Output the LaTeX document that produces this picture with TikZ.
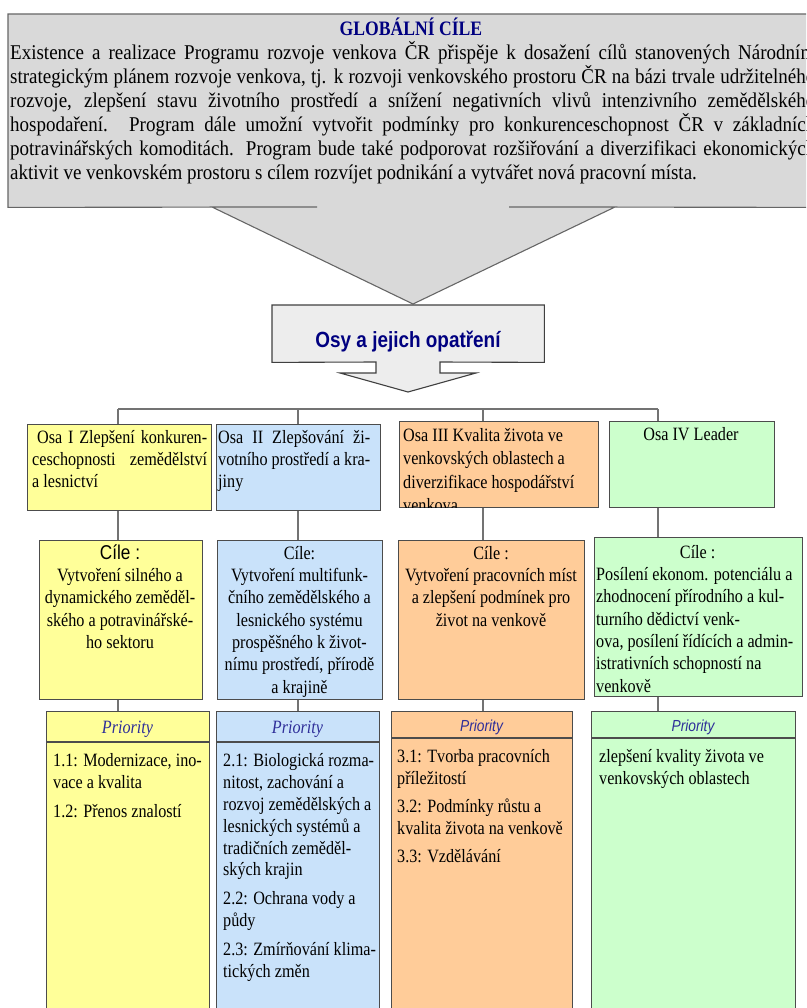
\documentclass[tikz,border=0pt]{standalone}
\usepackage{fontspec}
\setmainfont{Liberation Serif}[FakeStretch=0.86]
\setsansfont{Liberation Sans}[FakeStretch=0.86]
\newfontfamily\globserif{Liberation Serif}[FakeStretch=0.905]
\usetikzlibrary{positioning}

\definecolor{globgray}{HTML}{D9D9D9}
\definecolor{osygray}{HTML}{EDEDED}
\definecolor{osayellow}{HTML}{FFFF99}
\definecolor{osablue}{HTML}{C9E2FA}
\definecolor{osaorange}{HTML}{FFCC99}
\definecolor{osagreen}{HTML}{CCFFCC}
\definecolor{titleblue}{HTML}{000080}
\definecolor{prioblue}{HTML}{2E2E99}

\newcommand\globfont{\globserif\fontsize{21}{24}\selectfont}
\newcommand\titlefont{\bfseries\fontsize{20.5}{24}\selectfont}
\newcommand\boxfont{\fontsize{18.8}{22.3}\selectfont}
\newcommand\osyfont{\sffamily\bfseries\fontsize{22}{26}\selectfont}
\newcommand\cilesans{\sffamily\fontsize{20}{22.3}\selectfont}
\newcommand\priofont{\itshape\fontsize{18.8}{22}\selectfont}
\newcommand\priosans{\sffamily\itshape\fontsize{16}{20}\selectfont}
\newcommand\listfont{\fontsize{18.8}{21.8}\selectfont}
\newcommand\tstrut{\rule{0pt}{20pt}}
\newcommand\globline[1]{\makebox[805pt][s]{#1}}

\begin{document}
\begin{tikzpicture}[x=1pt, y=-1pt,
  frame/.style={draw=black!70, line width=1.1pt, inner sep=0pt, anchor=north west},
  conn/.style={draw=black!55, line width=1.3pt},
  txt/.style={inner sep=0pt, anchor=north west, align=left, font=\boxfont},
  prioline/.style={draw=black!70, line width=1.1pt}]
\useasboundingbox (0,0) rectangle (806,1008);
\clip (0,0) rectangle (806,1008);

% global goals with the big arrow
\node[anchor=north west, inner sep=0, minimum width=830, minimum height=193] (glob) at (8,14) {};
\filldraw[fill=globgray, draw=black!60, line width=1.1pt] (317,207) -- (glob.south west) -- (glob.north west) -- (glob.north east) -- (glob.south east) -- (509,207) -- (615,207) -- (413,304) -- (212,207) -- cycle;
\node[font=\titlefont, text=titleblue, anchor=base] (globtitle) at (411,36) {GLOBÁLNÍ CÍLE};
\node[txt, font=\globfont] (globtext) at (10,39) {\tstrut\globline{Existence a realizace Programu rozvoje venkova ČR přispěje k dosažení cílů stanovených Národním}\\
\globline{strategickým plánem rozvoje venkova, tj. k rozvoji venkovského prostoru ČR na bázi trvale udržitelného}\\
\globline{rozvoje, zlepšení stavu životního prostředí a snížení negativních vlivů intenzivního zemědělského}\\
\globline{hospodaření. Program dále umožní vytvořit podmínky pro konkurenceschopnost ČR v základních}\\
\globline{potravinářských komoditách. Program bude také podporovat rozšiřování a diverzifikaci ekonomických}\\
aktivit ve venkovském prostoru s cílem rozvíjet podnikání a vytvářet nová pracovní místa.};

% axes box with the small arrow
\node[anchor=north west, inner sep=0, minimum width=272, minimum height=57] (osy) at (272,305) {};
\filldraw[fill=osygray, draw=black!75, line width=1.1pt] (376,362) -- (osy.south west) -- (osy.north west) -- (osy.north east) -- (osy.south east) -- (440,362) -- (440,373) -- (476,373) -- (408,392) -- (340,373) -- (376,373) -- cycle;
\node[font=\osyfont, text=titleblue, anchor=base] (osytext) at (408,347) {Osy a jejich opatření};

% bus
\coordinate (bus1) at (118,409);
\coordinate (bus2) at (298,409);
\coordinate (bus3) at (483,409);
\coordinate (bus4) at (658,409);

% axes
\node[frame, fill=osayellow, minimum width=184, minimum height=86] (osa1) at (27,424) {};
\node[frame, fill=osablue, minimum width=164, minimum height=86] (osa2) at (216,424) {};
\node[frame, fill=osaorange, minimum width=199, minimum height=86] (osa3) at (399,421) {};
\node[frame, fill=osagreen, minimum width=165, minimum height=86] (osa4) at (609,421) {};

% goals
\node[frame, fill=osayellow, minimum width=163, minimum height=159] (cile1) at (39,540) {};
\node[frame, fill=osablue, minimum width=165, minimum height=159] (cile2) at (217,540) {};
\node[frame, fill=osaorange, minimum width=186, minimum height=159] (cile3) at (398,540) {};
\node[frame, fill=osagreen, minimum width=208, minimum height=159] (cile4) at (594,537) {};

% priorities
\node[frame, fill=osayellow, minimum width=163, minimum height=305] (prio1) at (46,711) {};
\node[frame, fill=osablue, minimum width=163, minimum height=305] (prio2) at (216,711) {};
\node[frame, fill=osaorange, minimum width=181, minimum height=305] (prio3) at (391,711) {};
\node[frame, fill=osagreen, minimum width=204, minimum height=305] (prio4) at (591,711) {};
\draw[prioline] ([yshift=-31]prio1.north west) -- ([yshift=-31]prio1.north east);
\draw[prioline] ([yshift=-31]prio2.north west) -- ([yshift=-31]prio2.north east);
\draw[prioline] ([yshift=-27]prio3.north west) -- ([yshift=-27]prio3.north east);
\draw[prioline] ([yshift=-27]prio4.north west) -- ([yshift=-27]prio4.north east);

% connectors
\draw[conn] (bus1) -- (bus4);
\draw[conn] (bus1) -- (bus1 |- osa1.north);
\draw[conn] (bus2) -- (bus2 |- osa2.north);
\draw[conn] (bus3) -- (bus3 |- osa3.north);
\draw[conn] (bus4) -- (bus4 |- osa4.north);
\draw[conn] (bus1 |- osa1.south) -- (bus1 |- cile1.north);
\draw[conn] (bus2 |- osa2.south) -- (bus2 |- cile2.north);
\draw[conn] (bus3 |- osa3.south) -- (bus3 |- cile3.north);
\draw[conn] (bus4 |- osa4.south) -- (bus4 |- cile4.north);
\draw[conn] (bus1 |- cile1.south) -- (bus1 |- prio1.north);
\draw[conn] (bus2 |- cile2.south) -- (bus2 |- prio2.north);
\draw[conn] (bus3 |- cile3.south) -- (bus3 |- prio3.north);
\draw[conn] (bus4 |- cile4.south) -- (bus4 |- prio4.north);

% axis texts
\node[txt, text width=175, align=justify] (osa1text) at (32,423) {\tstrut\hspace*{5pt}Osa I Zlepšení konkuren-\linebreak ceschopnosti zemědělství\linebreak a lesnictví};
\node[txt, text width=152, align=justify] (osa2text) at (218,423) {\tstrut Osa II Zlepšování ži-\linebreak votního prostředí a kra-\linebreak jiny};
\begin{scope}
\clip ([shift={(1pt,-1pt)}]osa3.north west) rectangle ([shift={(-1pt,1pt)}]osa3.south east);
\node[txt, font=\fontsize{18.8}{23.5}\selectfont] (osa3text) at (403,421) {\tstrut Osa III Kvalita života ve\\ venkovských oblastech a\\ diverzifikace hospodářství\\ venkova};
\end{scope}
\node[font=\boxfont, anchor=base] (osa4text) at (691,440) {Osa IV Leader};

% goal texts
\node[txt, align=center, anchor=north] (cile1text) at (120,539) {\tstrut{\cilesans Cíle :}\\ Vytvoření silného a\\ dynamického zeměděl-\\ ského a potravinářské-\\ ho sektoru};
\node[txt, align=center, anchor=north] (cile2text) at (299.5,539) {\tstrut Cíle:\\ Vytvoření multifunk-\\ čního zemědělského a\\ lesnického systému\\ prospěšného k život-\\ nímu prostředí, přírodě\\ a krajině};
\node[txt, align=center, anchor=north] (cile3text) at (491,539) {\tstrut Cíle :\\ Vytvoření pracovních míst\\ a zlepšení podmínek pro\\ život na venkově};
\node[txt] (cile4text) at (596,538) {\tstrut\makebox[203pt]{Cíle :}\\ Posílení ekonom. potenciálu a\\ zhodnocení přírodního a kul-\\ turního dědictví venk-\\ ova, posílení řídících a admin-\\ istrativních schopností na\\ venkově};

% priority texts
\node[font=\priofont, text=prioblue, anchor=base] (prio1head) at (127.5,733) {Priority};
\node[font=\priofont, text=prioblue, anchor=base] (prio2head) at (297.5,733) {Priority};
\node[font=\priosans, text=prioblue, anchor=base] (prio3head) at (481.5,731) {Priority};
\node[font=\priosans, text=prioblue, anchor=base] (prio4head) at (693,731) {Priority};
\node[txt, font=\listfont] (prio1text) at (53,746.6) {\tstrut 1.1: Modernizace, ino-\\ vace a kvalita\\[7pt] 1.2: Přenos znalostí};
\node[txt, font=\listfont] (prio2text) at (223,746.6) {\tstrut 2.1: Biologická rozma-\\ nitost, zachování a\\ rozvoj zemědělských a\\ lesnických systémů a\\ tradičních zeměděl-\\ ských krajin\\[7pt] 2.2: Ochrana vody a\\ půdy\\[7pt] 2.3: Zmírňování klima-\\ tických změn};
\node[txt, font=\listfont] (prio3text) at (397,742.6) {\tstrut 3.1: Tvorba pracovních\\ příležitostí\\[6pt] 3.2: Podmínky růstu a\\ kvalita života na venkově\\[6pt] 3.3: Vzdělávání};
\node[txt, font=\listfont] (prio4text) at (599,742.6) {\tstrut zlepšení kvality života ve\\ venkovských oblastech};
\end{tikzpicture}
\end{document}
